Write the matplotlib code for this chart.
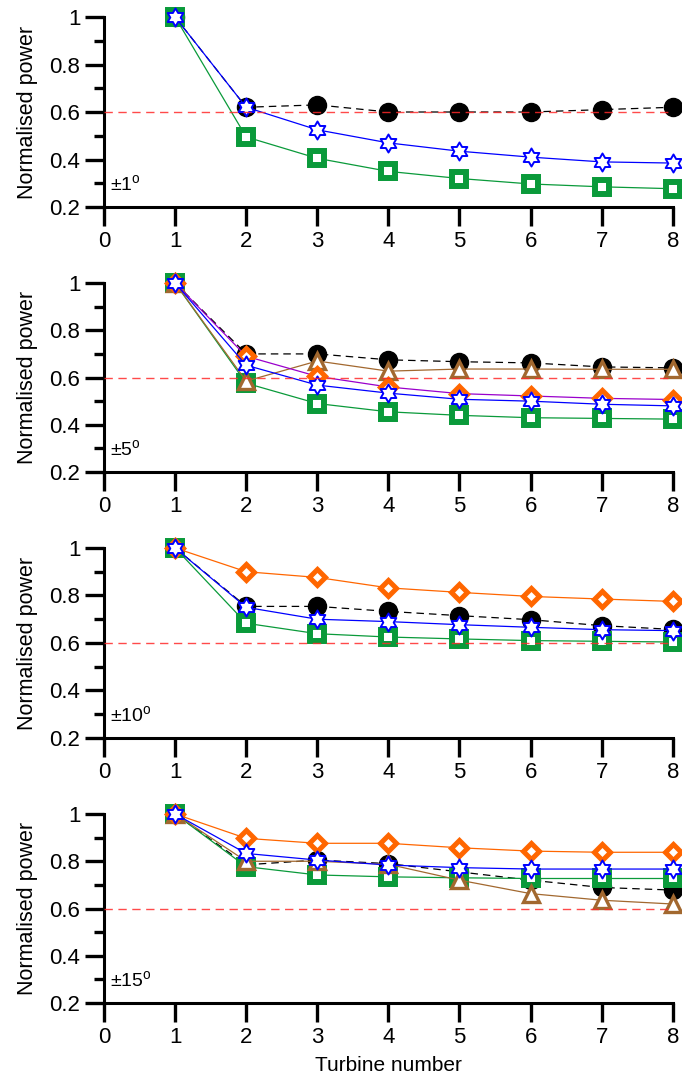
import numpy as np
import matplotlib
matplotlib.use("Agg")
import matplotlib.pyplot as plt
import matplotlib.path as mpath
from matplotlib.ticker import FixedLocator

plt.rcParams["font.family"] = ["Liberation Sans", "DejaVu Sans"]
plt.rcParams["mathtext.fontset"] = "custom"
plt.rcParams["mathtext.rm"] = "Liberation Sans"

turbines = [1, 2, 3, 4, 5, 6, 7, 8]
ref_level = 0.6
yaw_labels = ["±1", "±5", "±10", "±15"]

# panel 1 (±1°)
circle_1 = [1.0, 0.62, 0.63, 0.60, 0.60, 0.60, 0.61, 0.62]
star_1 = [1.0, 0.62, 0.525, 0.47, 0.435, 0.41, 0.39, 0.385]
square_1 = [1.0, 0.495, 0.405, 0.35, 0.32, 0.297, 0.285, 0.277]

# panel 2 (±5°)
circle_5 = [1.0, 0.70, 0.70, 0.675, 0.667, 0.662, 0.645, 0.641]
triangle_5 = [1.0, 0.585, 0.67, 0.627, 0.636, 0.636, 0.635, 0.635]
diamond_5 = [1.0, 0.69, 0.605, 0.56, 0.532, 0.522, 0.512, 0.507]
star_5 = [1.0, 0.652, 0.568, 0.534, 0.508, 0.50, 0.487, 0.48]
square_5 = [1.0, 0.576, 0.49, 0.455, 0.44, 0.43, 0.427, 0.424]

# panel 3 (±10°)
circle_10 = [1.0, 0.754, 0.754, 0.733, 0.715, 0.698, 0.673, 0.657]
diamond_10 = [1.0, 0.90, 0.876, 0.832, 0.813, 0.796, 0.785, 0.775]
star_10 = [1.0, 0.75, 0.70, 0.69, 0.677, 0.666, 0.656, 0.652]
square_10 = [1.0, 0.683, 0.639, 0.625, 0.617, 0.61, 0.607, 0.604]

# panel 4 (±15°)
circle_15 = [1.0, 0.785, 0.805, 0.79, 0.755, 0.72, 0.689, 0.678]
triangle_15 = [1.0, 0.80, 0.80, 0.787, 0.72, 0.663, 0.635, 0.619]
diamond_15 = [1.0, 0.897, 0.876, 0.876, 0.857, 0.843, 0.838, 0.838]
star_15 = [1.0, 0.833, 0.805, 0.784, 0.773, 0.767, 0.767, 0.767]
square_15 = [1.0, 0.777, 0.742, 0.734, 0.73, 0.727, 0.727, 0.727]

# six-pointed star marker
ang = np.deg2rad(90 + 30 * np.arange(12))
rad = np.where(np.arange(12) % 2 == 0, 1.0, 1 / np.sqrt(3))
verts = np.column_stack([rad * np.cos(ang), rad * np.sin(ang)])
verts = np.vstack([verts, verts[:1]])
hexagram = mpath.Path(verts, closed=True)

GREEN = "#0a9a3a"
BLUE = "#0000ff"
ORANGE = "#ff6600"
BROWN = "#a2682f"
PURPLE = "#9a00cc"

styles = {
    "circle": dict(color="black", ls=(0, (6, 4)), lw=0.9, marker="o", ms=13,
                   mfc="black", mec="black", zorder=3),
    "square": dict(color=GREEN, ls="-", lw=0.9, marker="s", ms=10,
                   mfc="white", mec=GREEN, mew=4.3, zorder=4),
    "triangle": dict(color=BROWN, ls="-", lw=0.9, marker="^", ms=11,
                     mfc="white", mec=BROWN, mew=2.4, zorder=5),
    "diamond": dict(color=ORANGE, ls="-", lw=0.9, marker="D", ms=8.5,
                    mfc="white", mec=ORANGE, mew=3.6, zorder=6),
    "star": dict(color=BLUE, ls="-", lw=0.9, marker=hexagram, ms=13,
                 mfc="white", mec=BLUE, mew=1.4, zorder=7),
}

panels = [
    [("circle", circle_1), ("square", square_1), ("star", star_1)],
    [("circle", circle_5), ("square", square_5), ("triangle", triangle_5),
     ("diamond", diamond_5), ("star", star_5)],
    [("circle", circle_10), ("square", square_10), ("diamond", diamond_10),
     ("star", star_10)],
    [("circle", circle_15), ("square", square_15), ("triangle", triangle_15),
     ("diamond", diamond_15), ("star", star_15)],
]

fig = plt.figure(figsize=(6.82, 10.77), dpi=100)
bottoms = [0.8078, 0.5617, 0.3148, 0.0687]
heights = [0.1764, 0.1755, 0.1764, 0.1755]

for i, (series, label) in enumerate(zip(panels, yaw_labels)):
    ax = fig.add_axes([0.1525, bottoms[i], 0.834, heights[i]])
    for kind, vals in series:
        st = dict(styles[kind])
        if i == 1 and kind == "diamond":
            st["color"] = PURPLE
        ax.plot(turbines, vals, clip_on=False, **st)
    ax.axhline(ref_level, color="#ff2a2a", ls=(0, (6, 4)), lw=1.0,
               alpha=0.85, zorder=10)

    ax.set_xlim(0, 8)
    ax.set_ylim(0.2, 1.0)
    ax.xaxis.set_major_locator(FixedLocator(range(0, 9)))
    ax.yaxis.set_major_locator(FixedLocator([0.2, 0.4, 0.6, 0.8, 1.0]))
    ax.set_yticklabels(["0.2", "0.4", "0.6", "0.8", "1"])
    ax.yaxis.set_minor_locator(FixedLocator([0.3, 0.5, 0.7, 0.9]))
    for s in ["top", "right"]:
        ax.spines[s].set_visible(False)
    for s in ["left", "bottom"]:
        ax.spines[s].set_linewidth(2.2)
    ax.tick_params(axis="both", which="major", direction="out", length=14,
                   width=2.4, labelsize=16, pad=3)
    ax.tick_params(axis="y", which="minor", direction="out", length=7,
                   width=2.4)
    ax.set_ylabel("Normalised power", fontsize=15.5, labelpad=8)
    ax.text(0.08, 0.25, label + r"$^{\mathrm{o}}$", fontsize=14,
            ha="left", va="bottom")
    if i == 3:
        ax.set_xlabel("Turbine number", fontsize=15, labelpad=6)

fig.savefig("out.png", dpi=100)
